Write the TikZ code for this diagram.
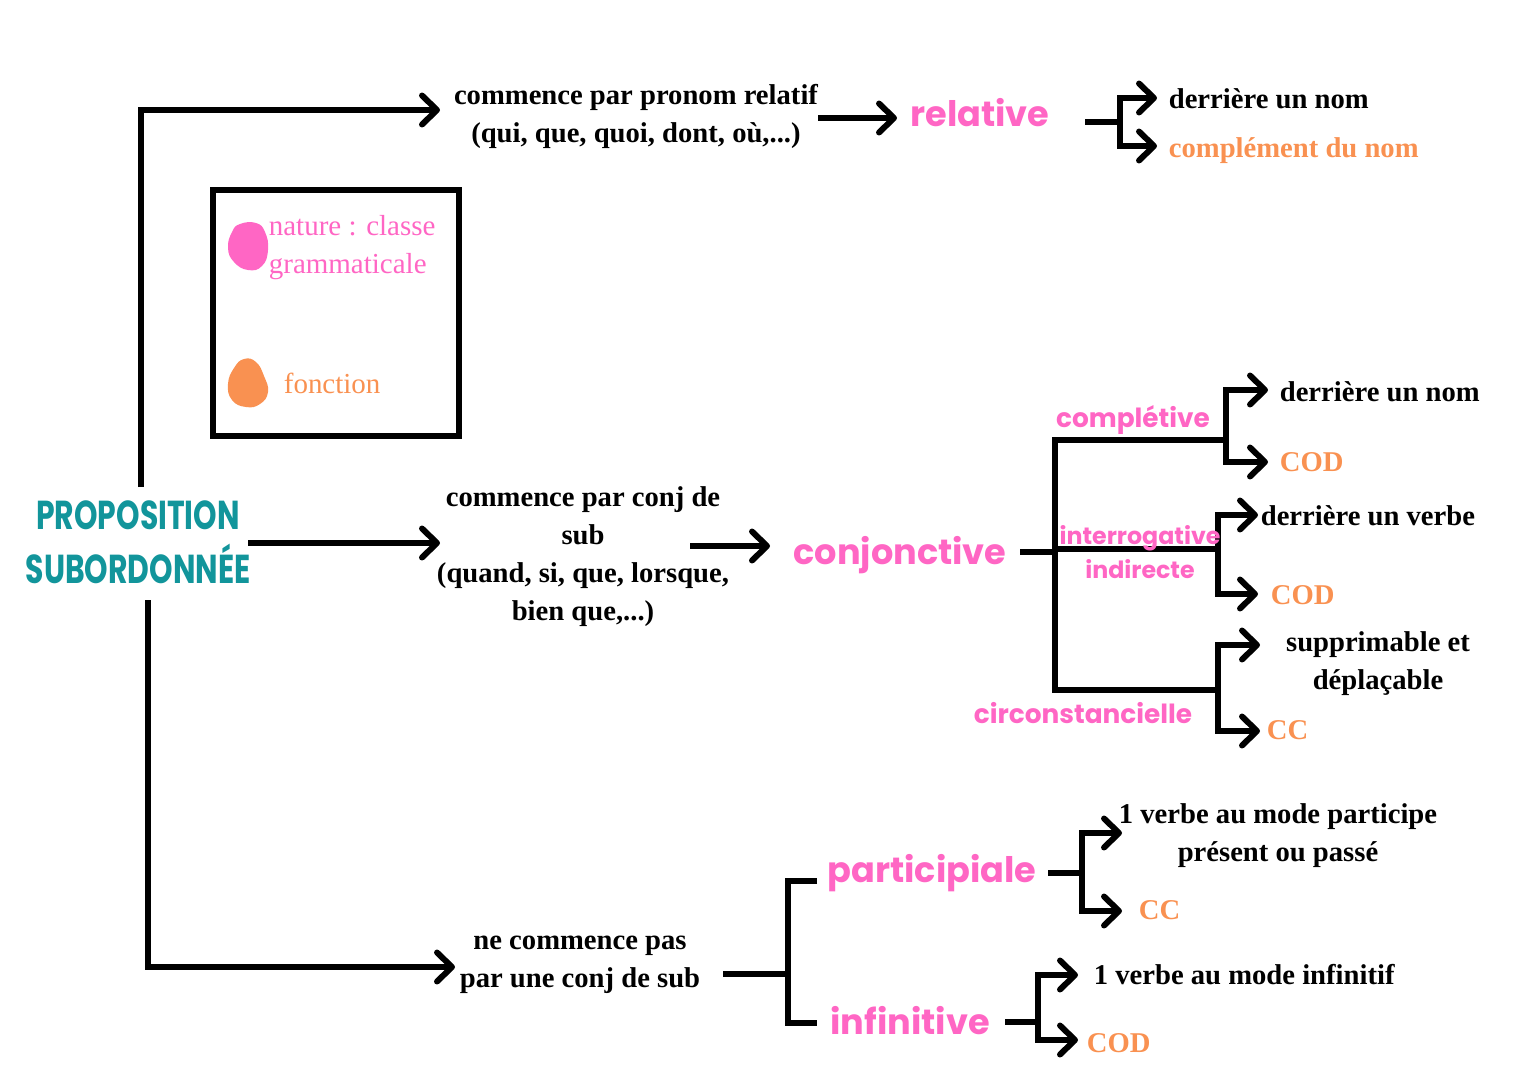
\documentclass[tikz,border=0pt]{standalone}
\usepackage{fontspec}
\setmainfont{Liberation Serif}
\newfontfamily\roundfont{Poppins}
\newfontfamily\capsfont{Poppins}[FakeStretch=0.74]
\usetikzlibrary{arrows.meta}
\definecolor{rose}{HTML}{FF66C4}
\definecolor{peach}{HTML}{F99151}
\definecolor{deepteal}{HTML}{12959B}

\tikzset{branch/.style={line width=3.4pt},
pointer/.style={branch,-{Straight Barb[length=0.3cm,width=0.58cm,line cap=round,line join=round]}},
body/.style={font=\bfseries\fontsize{16.3}{21.6}\selectfont,align=center,inner sep=0.05cm},
leaf/.style={body,anchor=west},
role/.style={leaf,text=peach},
kind/.style={font=\roundfont\bfseries\fontsize{20}{25}\selectfont,text=rose,inner sep=0.05cm},
subkind/.style={font=\roundfont\bfseries\fontsize{15}{18}\selectfont,text=rose,align=center,inner sep=0.05cm},
key text/.style={font=\fontsize{16.5}{21.6}\selectfont,align=left,anchor=west,inner sep=0.05cm},
heading/.style={font=\capsfont\bfseries\fontsize{23}{31}\selectfont,text=deepteal,align=center,inner sep=0.05cm}}

\begin{document}
\begin{tikzpicture}[x=0.02cm,y=-0.02cm]
\useasboundingbox (0,0) rectangle (1526,1080);

%% Coordinates of nodes.
\coordinate (t0) at (141,487);
\coordinate (t1) at (440,110);
\coordinate (m0) at (248,543);
\coordinate (m1) at (440,543);
\coordinate (b0) at (148,600);
\coordinate (b1) at (455,967);
\coordinate (r0) at (818,118);
\coordinate (r1) at (897,118);
\coordinate (r2) at (1085,122);
\coordinate (r3) at (1120,122);
\coordinate (r4) at (1157,98);
\coordinate (r5) at (1157,146);
\coordinate (c0) at (690,546);
\coordinate (c1) at (770,546);
\coordinate (c2) at (1020,552);
\coordinate (c3) at (1055,552);
\coordinate (cp) at (1226,440);
\coordinate (cpa) at (1268,390);
\coordinate (cpb) at (1268,462);
\coordinate (ci) at (1218,549);
\coordinate (cia) at (1258,515);
\coordinate (cib) at (1258,594);
\coordinate (cc) at (1218,690);
\coordinate (cca) at (1260,645);
\coordinate (ccb) at (1260,731);
\coordinate (p0) at (723,974);
\coordinate (p1) at (788,974);
\coordinate (pt) at (817,881);
\coordinate (pb) at (817,1023);
\coordinate (pp0) at (1048,873);
\coordinate (pp1) at (1082,873);
\coordinate (ppa) at (1122,833);
\coordinate (ppb) at (1122,911);
\coordinate (pi0) at (1005,1022);
\coordinate (pi1) at (1038,1022);
\coordinate (pia) at (1078,975);
\coordinate (pib) at (1078,1040);

%% trunk
\draw [pointer] (t0) |- (t1);
\draw [pointer] (m0) -- (m1);
\draw [pointer] (b0) |- (b1);

%% relative
\draw [pointer] (r0) -- (r1);
\draw [branch] (r2) -- (r3);
\draw [pointer] (r3) |- (r4);
\draw [pointer] (r3) |- (r5);

%% conjonctive
\draw [pointer] (c0) -- (c1);
\draw [branch] (c2) -- (c3);
\draw [branch] (cp) -| (1055,690) -- (cc);
\draw [branch] (1055,549) -- (ci);
\draw [pointer] (cp) |- (cpa);
\draw [pointer] (cp) |- (cpb);
\draw [pointer] (ci) |- (cia);
\draw [pointer] (ci) |- (cib);
\draw [pointer] (cc) |- (cca);
\draw [pointer] (cc) |- (ccb);

%% no conjunction
\draw [branch] (p0) -- (p1);
\draw [branch] (pt) -| (p1) |- (pb);
\draw [branch] (pp0) -- (pp1);
\draw [pointer] (pp1) |- (ppa);
\draw [pointer] (pp1) |- (ppb);
\draw [branch] (pi0) -- (pi1);
\draw [pointer] (pi1) |- (pia);
\draw [pointer] (pi1) |- (pib);

%% legend
\draw [branch] (213,190) rectangle (459,436);
\fill [rose] plot [smooth cycle,tension=0.8] coordinates {(240,224) (256,223) (265,232) (268,250) (262,266) (248,270) (234,262) (228,248) (232,232)};
\fill [peach] plot [smooth cycle,tension=0.8] coordinates {(244,359) (256,362) (264,376) (268,392) (260,404) (246,407) (232,400) (228,384) (234,368)};
\node [key text,text=rose] (knature) at (266,248) {nature : classe\\grammaticale};
\node [key text,text=peach] (kfonction) at (281,383) {fonction};

%% labels
\node [heading] (title) at (138,542) {PROPOSITION\\SUBORDONNÉE};
\node [body] (pronom) at (636,116) {commence par pronom relatif\\(qui, que, quoi, dont, où,...)};
\node [kind] (relative) at (980,113) {relative};
\node [leaf] (rnom) at (1166,99) {derrière un nom};
\node [role] (rcdn) at (1166,151) {complément du nom};

\node [body] (conj) at (583,557) {commence par conj de\\sub\\(quand, si, que, lorsque,\\bien que,...)};
\node [kind] (conjonctive) at (900,555) {conjonctive};
\node [subkind] (completive) at (1133,420) {complétive};
\node [subkind,font=\roundfont\bfseries\fontsize{13.5}{19.5}\selectfont] (interro) at (1140,552) {interrogative\\indirecte};
\node [subkind] (circ) at (1083,713) {circonstancielle};
\node [leaf] (cnom) at (1277,392) {derrière un nom};
\node [role] (ccod) at (1277,462) {COD};
\node [leaf] (iverbe) at (1258,516) {derrière un verbe};
\node [role] (icod) at (1268,595) {COD};
\node [body] (suppr) at (1378,664) {supprimable et\\déplaçable};
\node [role] (scc) at (1264,730) {CC};

\node [body] (nepas) at (580,965) {ne commence pas\\par une conj de sub};
\node [kind] (participiale) at (932,873) {participiale};
\node [kind] (infinitive) at (910,1021) {infinitive};
\node [body] (ppart) at (1278,836) {1 verbe au mode participe\\présent ou passé};
\node [role] (pcc) at (1136,910) {CC};
\node [leaf] (pinf) at (1091,975) {1 verbe au mode infinitif};
\node [role] (pcod) at (1084,1043) {COD};

\end{tikzpicture}
\end{document}
